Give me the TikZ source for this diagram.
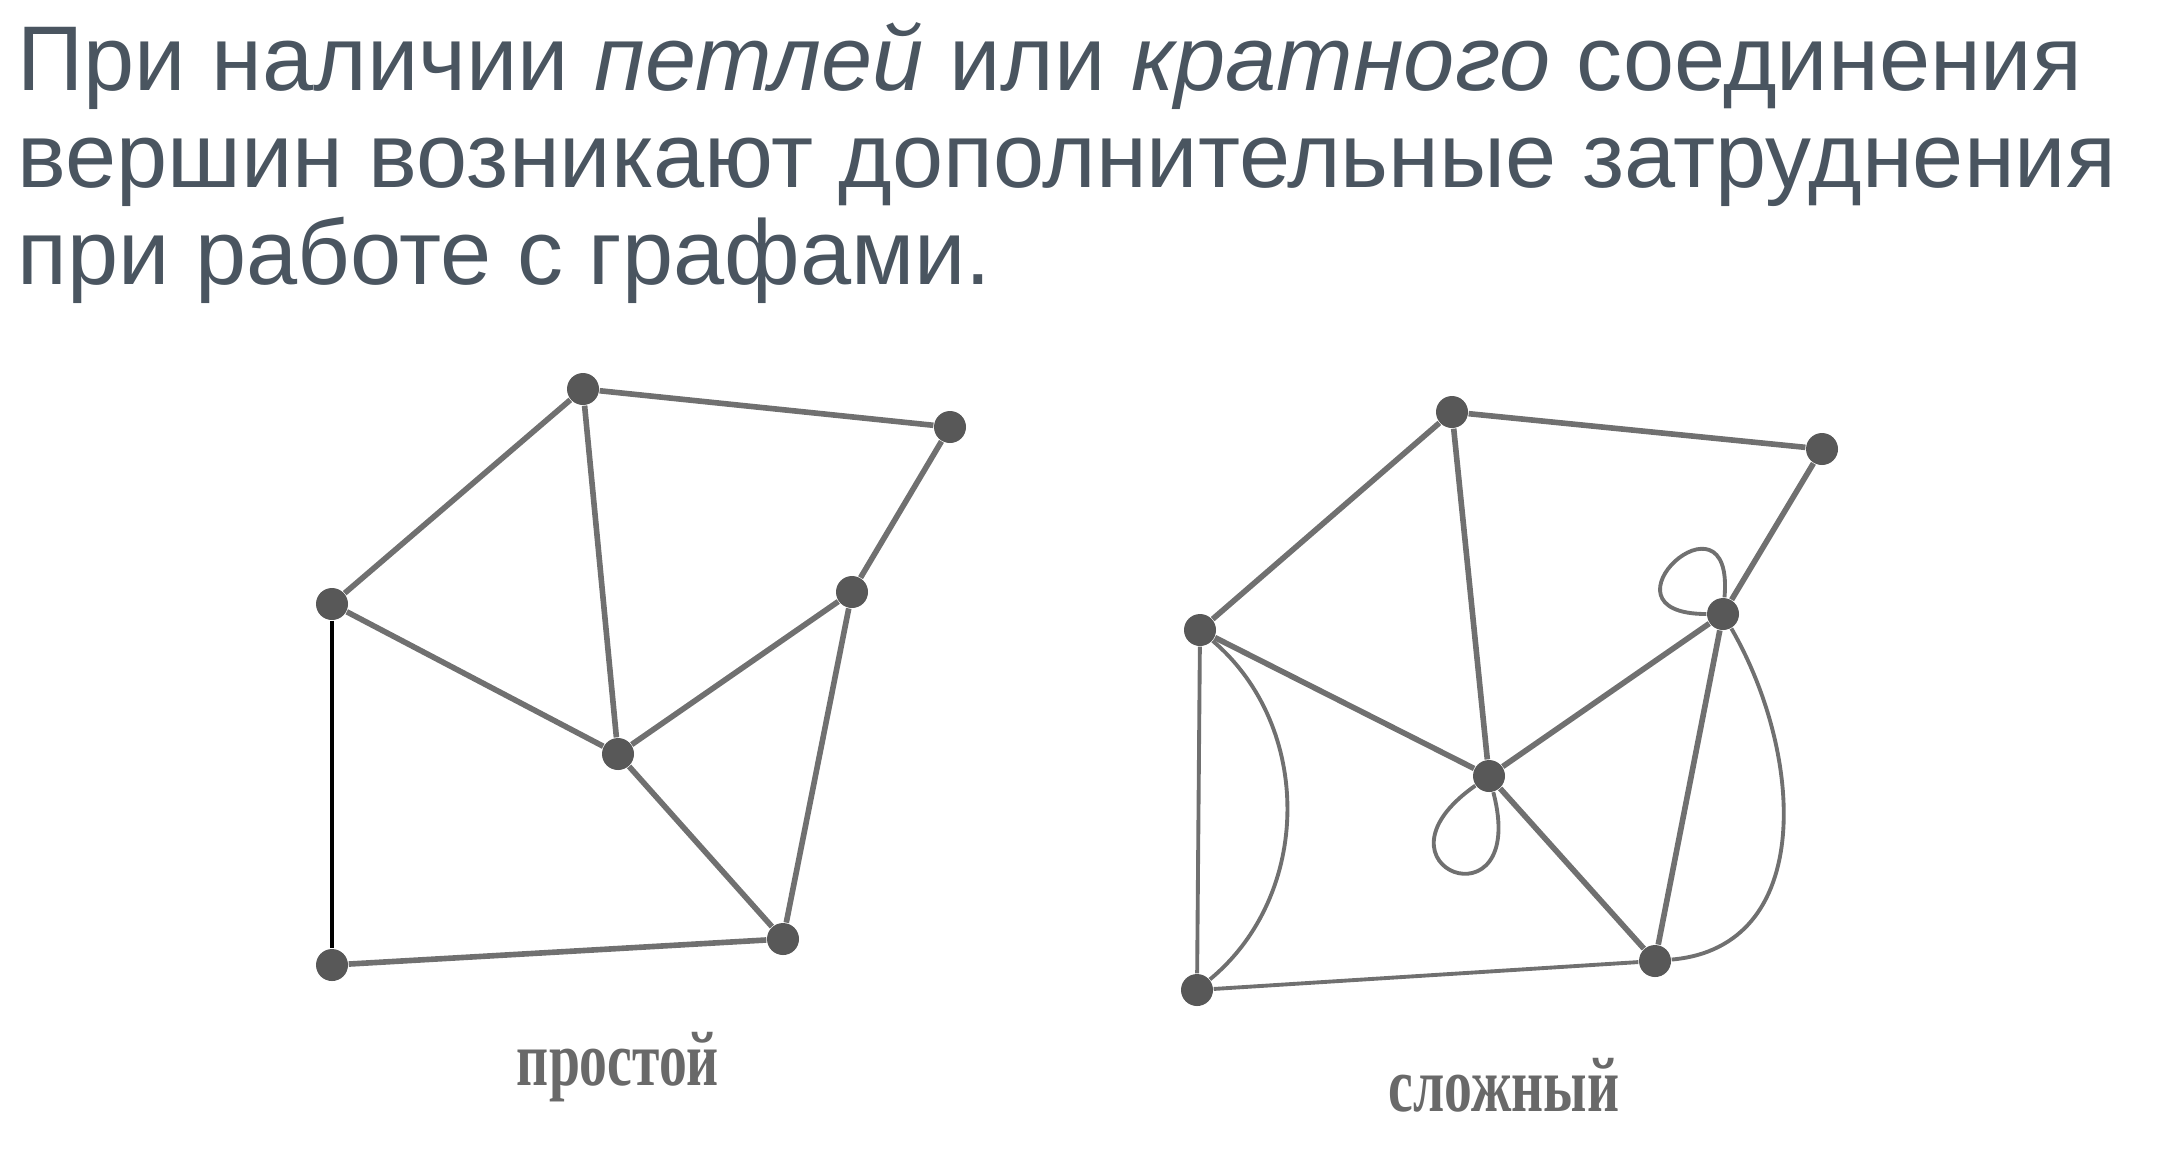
\documentclass[tikz,border=0pt]{standalone}
\usepackage{fontspec}
\setmainfont{Liberation Sans}
\newfontfamily\labelfont{Liberation Serif}
\definecolor{titlegray}{RGB}{74,85,96}
\definecolor{edgegray}{RGB}{112,112,112}
\definecolor{vertexgray}{RGB}{88,88,88}

\begin{document}
\begin{tikzpicture}[
    vertex/.style={circle, fill=vertexgray, inner sep=0pt, minimum size=0.32cm},
    edge/.style={draw=edgegray, line width=1.6pt},
    thin edge/.style={draw=edgegray, line width=1.1pt},
    caption/.style={font=\labelfont\bfseries\fontsize{22}{24}\selectfont, text=vertexgray!90, xscale=0.72}
]
    \useasboundingbox (0,0) rectangle (21.68,-11.62);
    \node[anchor=north west, align=left, text=titlegray, font=\fontsize{26.15}{27.6}\selectfont, inner sep=0pt] (title) at (0.17,-0.22)
        {При наличии \textit{петлей} или \textit{кратного} соединения\\вершин возникают дополнительные затруднения\\при работе с графами.};

    \node[vertex] (0) at (3.32,-6.04) {};
    \node[vertex] (1) at (5.83,-3.89) {};
    \node[vertex] (2) at (9.50,-4.27) {};
    \node[vertex] (3) at (8.52,-5.92) {};
    \node[vertex] (4) at (6.18,-7.54) {};
    \node[vertex] (5) at (7.83,-9.39) {};
    \node[vertex] (6) at (3.32,-9.65) {};
    \draw[edge] (0) -- (1);
    \draw[edge] (1) -- (2);
    \draw[edge] (1) -- (4);
    \draw[edge] (2) -- (3);
    \draw[edge] (3) -- (4);
    \draw[edge] (3) -- (5);
    \draw[edge] (4) -- (5);
    \draw[edge] (0) -- (4);
    \draw[black, line width=1.2pt] (0) -- (6);
    \draw[edge] (6) -- (5);
    \node[caption] (simple) at (6.18,-10.67) {простой};

    \node[vertex] (10) at (12.00,-6.30) {};
    \node[vertex] (11) at (14.52,-4.12) {};
    \node[vertex] (12) at (18.22,-4.49) {};
    \node[vertex] (13) at (17.23,-6.14) {};
    \node[vertex] (14) at (14.89,-7.76) {};
    \node[vertex] (15) at (16.55,-9.61) {};
    \node[vertex] (16) at (11.97,-9.90) {};
    \draw[edge] (10) -- (11);
    \draw[edge] (11) -- (12);
    \draw[edge] (11) -- (14);
    \draw[edge] (12) -- (13);
    \draw[edge] (13) -- (14);
    \draw[edge] (13) -- (15);
    \draw[edge] (14) -- (15);
    \draw[edge] (10) -- (14);
    \draw[thin edge] (10) -- (16);
    \draw[thin edge] (10) to[bend left=50] (16);
    \draw[thin edge] (16) -- (15);
    \draw[thin edge] (15) to[out=5, in=-60, looseness=1.1] (13);
    \draw[thin edge] (13) .. controls +(-1.35,0) and +(0.12,1.35) .. (13);
    \draw[thin edge] (14) .. controls +(-1.31,-0.92) and +(0.41,-1.55) .. (14);
    \node[caption] (complex) at (15.04,-10.85) {сложный};
\end{tikzpicture}
\end{document}
